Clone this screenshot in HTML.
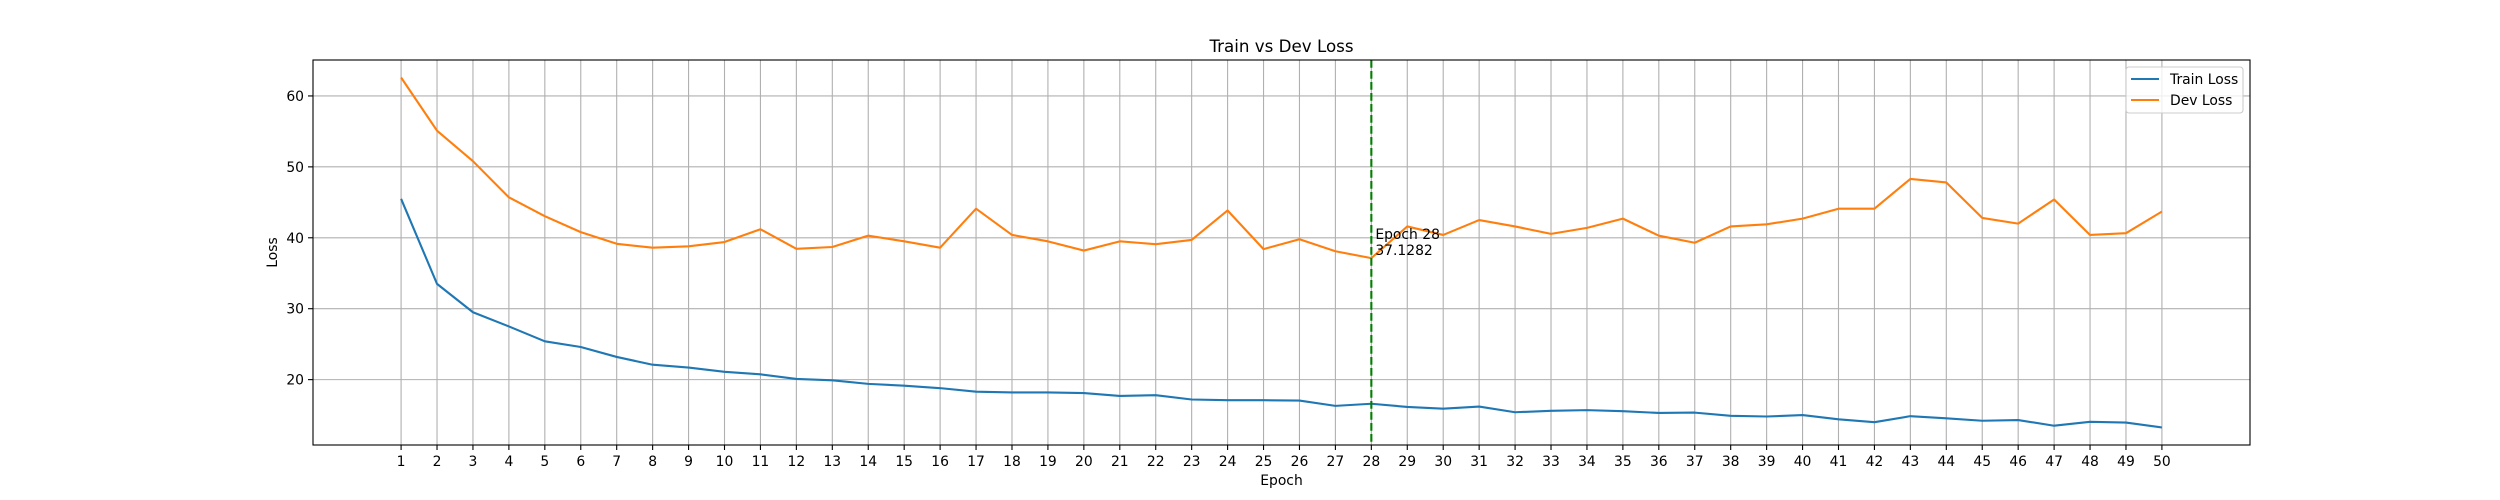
<!DOCTYPE html>
<html><head><meta charset="utf-8"><style>
html,body{margin:0;padding:0;background:#fff;}
svg{display:block;font-family:"DejaVu Sans","Liberation Sans",sans-serif;}
</style></head><body>
<svg id="chart" width="2500" height="500" viewBox="0 0 2500 500" xmlns="http://www.w3.org/2000/svg">
<rect x="0" y="0" width="2500" height="500" fill="#fff"/>
<g id="grid"></g>
<g id="series"></g>
<g id="axes"></g>
</svg>
<script>
const epochs = [];
for (let i = 1; i <= 50; i++) epochs.push(i);
const trainLoss = [45.5,33.5,29.5,27.5,25.4,24.6,23.2,22.1,21.7,21.1,20.75,20.1,19.9,19.4,19.15,18.8,18.3,18.2,18.2,18.1,17.7,17.8,17.2,17.1,17.1,17.05,16.3,16.6,16.15,15.9,16.2,15.4,15.6,15.7,15.55,15.3,15.35,14.9,14.8,15.0,14.4,14.0,14.85,14.55,14.2,14.3,13.5,14.05,13.95,13.25];
const devLoss = [62.6,55.1,50.8,45.7,43.05,40.8,39.15,38.6,38.8,39.4,41.2,38.45,38.7,40.3,39.5,38.6,44.1,40.4,39.5,38.2,39.5,39.1,39.7,43.85,38.4,39.8,38.1,37.1282,41.6,40.4,42.5,41.6,40.55,41.4,42.7,40.3,39.3,41.6,41.9,42.7,44.1,44.1,48.3,47.8,42.8,42.0,45.4,40.4,40.65,43.7];
const yTicks = [20,30,40,50,60];
const bestEpoch = 28;
const bestValue = 37.1282;

const L=313,R=2250,T=60,B=445;
const xMin=-1.4513,xMax=52.4513;
const allV=trainLoss.concat(devLoss);
const dmin=Math.min(...allV), dmax=Math.max(...allV);
const yMin=dmin-(dmax-dmin)*0.05, yMax=dmax+(dmax-dmin)*0.05;
const xs=v=>L+(v-xMin)/(xMax-xMin)*(R-L);
const ys=v=>B-(v-yMin)/(yMax-yMin)*(B-T);
const NS="http://www.w3.org/2000/svg";
function mk(tag,attrs,parent){const e=document.createElementNS(NS,tag);for(const k in attrs)e.setAttribute(k,attrs[k]);parent.appendChild(e);return e;}
const grid=document.getElementById('grid'),series=document.getElementById('series'),axes=document.getElementById('axes'),svg=document.getElementById('chart');

epochs.forEach(e=>{
  const x=xs(e);
  const g=mk('line',{x1:x,x2:x,y1:T,y2:B,stroke:'#b0b0b0','stroke-width':1.1},grid);
  
  
  const t=mk('line',{x1:x,x2:x,y1:B,y2:B+5,stroke:'#000','stroke-width':1.1},axes);
  
  
  const l=mk('text',{x:x,y:466,'font-size':13.9,'text-anchor':'middle',fill:'#000'},axes);
  l.textContent=e;
  
  
});
yTicks.forEach(v=>{
  const y=ys(v);
  const g=mk('line',{x1:L,x2:R,y1:y,y2:y,stroke:'#b0b0b0','stroke-width':1.1},grid);
  
  
  const t=mk('line',{x1:L-5,x2:L,y1:y,y2:y,stroke:'#000','stroke-width':1.1},axes);
  
  
  const l=mk('text',{x:L-9,y:y+5,'font-size':13.9,'text-anchor':'end',fill:'#000'},axes);
  l.textContent=v;
  
  
});

function path(vals){return vals.map((v,i)=>(i?'L':'M')+xs(epochs[i]).toFixed(2)+','+ys(v).toFixed(2)).join(' ');}
const tp=mk('path',{d:path(trainLoss),fill:'none',stroke:'#1f77b4','stroke-width':2.1,'stroke-linejoin':'round'},series);


const dp=mk('path',{d:path(devLoss),fill:'none',stroke:'#ff7f0e','stroke-width':2.1,'stroke-linejoin':'round'},series);


const bx=xs(bestEpoch);
const bl=mk('line',{x1:bx,x2:bx,y1:T,y2:B,stroke:'#008000','stroke-width':2.1,'stroke-dasharray':'7.7,3.3'},series);


const a1=mk('text',{x:bx+4,y:ys(bestValue)-19,'font-size':13.9,fill:'#000'},series);
a1.textContent='Epoch '+bestEpoch;


const a2=mk('text',{x:bx+4,y:ys(bestValue)-3,'font-size':13.9,fill:'#000'},series);
a2.textContent=bestValue.toFixed(4);



const frame=mk('rect',{x:L,y:T,width:R-L,height:B-T,fill:'none',stroke:'#000','stroke-width':1.1},axes);


const title=mk('text',{x:(L+R)/2,y:52,'font-size':16.7,'text-anchor':'middle',fill:'#000'},axes);
title.textContent='Train vs Dev Loss';


const xl=mk('text',{x:(L+R)/2,y:485,'font-size':13.9,'text-anchor':'middle',fill:'#000'},axes);
xl.textContent='Epoch';


const yl=mk('text',{x:0,y:0,'font-size':13.9,'text-anchor':'middle',fill:'#000',transform:'translate(277,'+((T+B)/2)+') rotate(-90)'},axes);
yl.textContent='Loss';



const lg=mk('g',{},axes);


mk('rect',{x:2126,y:67,width:117,height:46,rx:3,fill:'#fff','fill-opacity':0.8,stroke:'#cccccc','stroke-width':1.1},lg);
[['Train Loss','#1f77b4',79],['Dev Loss','#ff7f0e',100]].forEach(([name,c,y])=>{
  const e=mk('g',{},lg);
  
  
  mk('line',{x1:2131,x2:2159,y1:y,y2:y,stroke:c,'stroke-width':2.1},e);
  const t=mk('text',{x:2170,y:y+5,'font-size':13.9,fill:'#000'},e);
  t.textContent=name;
});
</script>
</body></html>
